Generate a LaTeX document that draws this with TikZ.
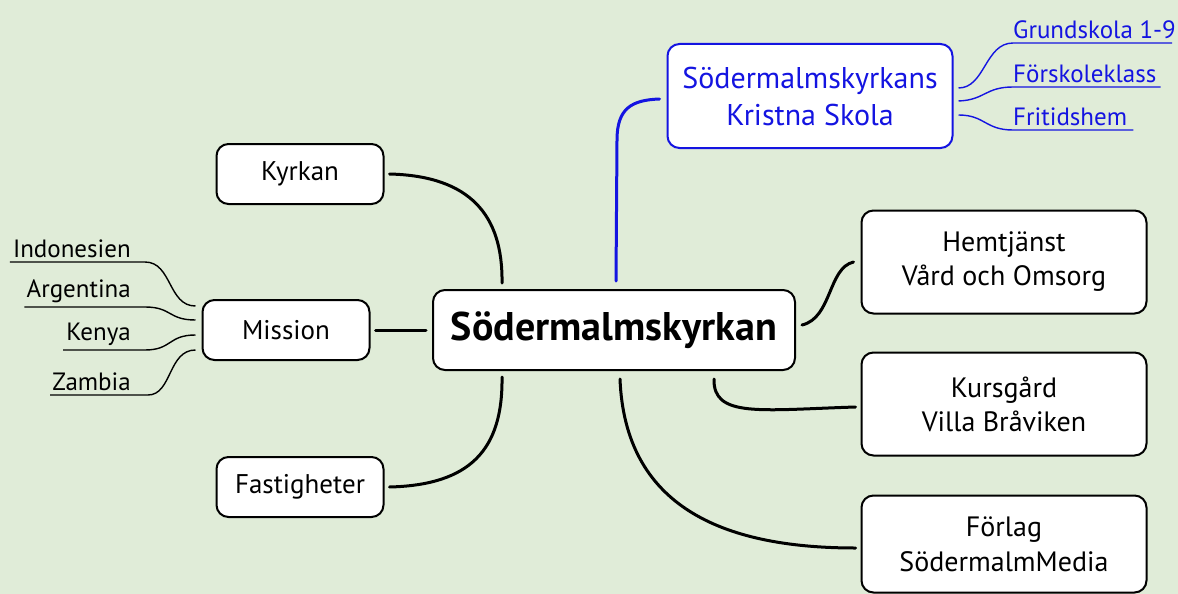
\documentclass[tikz,border=0pt]{standalone}
\usepackage{fontspec}
\setmainfont{PT Sans}
\usetikzlibrary{calc}
\definecolor{bg}{RGB}{224,236,216}
\definecolor{skblue}{RGB}{20,20,225}
\tikzset{
  box/.style={draw=black, line width=2pt, rounded corners=12pt, fill=white, align=center, inner sep=0pt, font=\fontsize{27}{32}\selectfont},
  conn/.style={draw=black, line width=3pt, line cap=round},
  bconn/.style={draw=skblue, line width=3pt, line cap=round},
  leafline/.style={draw=black, line width=1.4pt},
  bleafline/.style={draw=skblue, line width=1.4pt},
  leaf/.style={inner xsep=0pt, inner ysep=4pt, font=\fontsize{25}{29}\selectfont},
  bleaf/.style={leaf, text=skblue},
}
\begin{document}
\begin{tikzpicture}[x=1pt,y=-1pt]
\fill[bg] (0,0) rectangle (1178,594);
\useasboundingbox (0,0) rectangle (1178,594);

% main nodes
\node[box, minimum width=362pt, minimum height=80pt, font=\fontsize{40}{44}\selectfont\bfseries] (c) at (614,330) {Södermalmskyrkan};
\node[box, minimum width=167pt, minimum height=60pt] (k) at (300,174) {Kyrkan};
\node[box, minimum width=167pt, minimum height=60pt] (m) at (286,330) {Mission};
\node[box, minimum width=167pt, minimum height=60pt] (f) at (300,487) {Fastigheter};
\node[box, draw=skblue, text=skblue, minimum width=285pt, minimum height=104pt, font=\fontsize{30}{37}\selectfont] (s) at (810,96) {Södermalmskyrkans\\Kristna Skola};
\node[box, minimum width=285pt, minimum height=103pt, font=\fontsize{28}{34}\selectfont] (h) at (1004,262) {Hemtjänst\\Vård och Omsorg};
\node[box, minimum width=285pt, minimum height=103pt, font=\fontsize{28}{34}\selectfont] (ku) at (1004,404) {Kursgård\\Villa Bråviken};
\node[box, minimum width=285pt, minimum height=97pt, font=\fontsize{28}{35}\selectfont] (fo) at (1004,544) {Förlag\\SödermalmMedia};

% connectors from centre
\draw[conn] ([xshift=5pt]k.east) .. controls (470,176) and (503,215) .. ($(c.north west)+(70,-6)$);
\draw[conn] ([xshift=5pt]m.east) -- ([xshift=-6pt]c.west);
\draw[conn] ([xshift=5pt]f.east) .. controls (470,485) and (503,450) .. ($(c.south west)+(70,6)$);
\draw[bconn] ($(c.north west)+(184,-8)$) -- (617,140) .. controls (617,108) and (632,100) .. ([xshift=-7pt,yshift=-3pt]s.west);
\draw[conn] ([xshift=6pt,yshift=5pt]c.east) .. controls (832,318) and (828,268) .. ([xshift=-7pt]h.west);
\draw[conn] ($(c.south east)+(-82,8)$) .. controls (713,418) and (760,410) .. ([xshift=-5pt,yshift=-3pt]ku.west);
\draw[conn] ($(c.south west)+(188,8)$) .. controls (625,505) and (720,548) .. ([xshift=-5pt,yshift=-4pt]fo.west);

% school leaves
\node[bleaf, anchor=south west] (g1) at (1013,43) {Grundskola 1-9};
\node[bleaf, anchor=south west] (g2) at (1013,87) {Förskoleklass};
\node[bleaf, anchor=south west] (g3) at (1013,130) {Fritidshem};
\draw[bleafline] ([xshift=5pt,yshift=8pt]s.east) .. controls (985,88) and (985,43) .. (g1.south west) -- (1172,43);
\draw[bleafline] ([xshift=5pt,yshift=-5pt]s.east) .. controls (985,100) and (985,87) .. (g2.south west) -- ($(g2.south east)+(4,0)$);
\draw[bleafline] ([xshift=5pt,yshift=-19pt]s.east) .. controls (985,115) and (985,130) .. (g3.south west) -- ($(g3.south east)+(6,0)$);

% mission leaves
\node[leaf, anchor=south east] (l1) at (131,262) {Indonesien};
\node[leaf, anchor=south east] (l2) at (131,307) {Argentina};
\node[leaf, anchor=south east] (l3) at (131,350) {Kenya};
\node[leaf, anchor=south east] (l4) at (131,395) {Zambia};
\draw[leafline] ($(l1.south west)+(-3,0)$) -- (145,262) .. controls (172,262) and (168,306) .. ([xshift=-6pt,yshift=24pt]m.west);
\draw[leafline] ($(l2.south west)+(-2,0)$) -- (145,307) .. controls (172,307) and (168,320) .. ([xshift=-6pt,yshift=10pt]m.west);
\draw[leafline] ($(l3.south west)+(-3,0)$) -- (145,350) .. controls (172,350) and (168,335) .. ([xshift=-6pt,yshift=-5pt]m.west);
\draw[leafline] ($(l4.south west)+(-2,0)$) -- (148,395) .. controls (172,395) and (168,350) .. ([xshift=-6pt,yshift=-20pt]m.west);
\end{tikzpicture}
\end{document}
